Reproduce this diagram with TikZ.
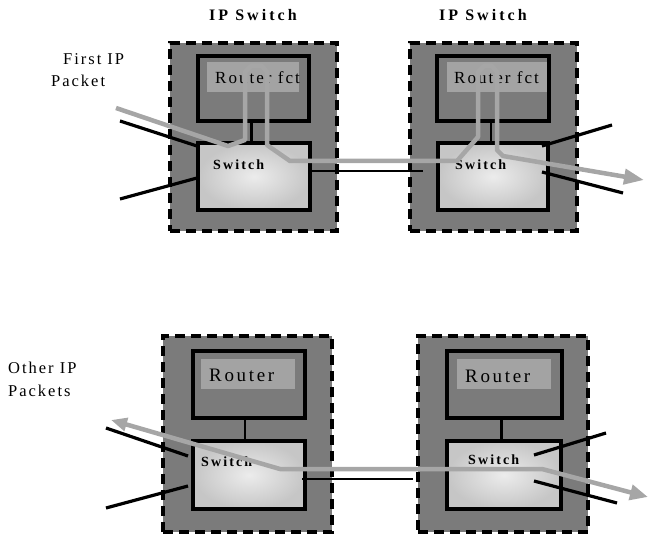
\documentclass[tikz,border=0pt]{standalone}
\usepackage{fontspec}
\setmainfont{Liberation Serif}
\newfontfamily\fhead[LetterSpace=19]{Liberation Serif}
\newfontfamily\fside[LetterSpace=12]{Liberation Serif}
\newfontfamily\frout[LetterSpace=12]{Liberation Serif}
\newfontfamily\frbig[LetterSpace=14]{Liberation Serif}
\newfontfamily\fsw[LetterSpace=15]{Liberation Serif}
\usetikzlibrary{arrows.meta,shadings}
\definecolor{boxgray}{HTML}{7B7B7B}
\definecolor{labgray}{HTML}{A3A3A3}
\definecolor{pathgray}{HTML}{A6A6A6}
\tikzset{
  outerbox/.style={draw=black, fill=boxgray, line width=3.6pt, dash pattern=on 10pt off 6pt, anchor=north west, inner sep=0pt, outer sep=0pt},
  routerbox/.style={draw=black, fill=boxgray, line width=3.4pt, anchor=north west, inner sep=0pt, outer sep=0pt},
  labbox/.style={fill=labgray, anchor=north west, inner sep=0pt, outer sep=0pt},
  switchbox/.style={draw=black, line width=3.4pt, anchor=north west, inner sep=0pt, outer sep=0pt, inner color=gray!15, outer color=gray!45},
  wire/.style={line width=3.2pt, black},
  link/.style={line width=2.8pt, black},
  flow/.style={line width=4.5pt, pathgray, line join=round},
  headtxt/.style={anchor=base west, inner sep=0pt, font=\fhead\bfseries\fontsize{16}{18}\selectfont},
  sidetxt/.style={anchor=base west, inner sep=0pt, font=\fside\fontsize{16.5}{18}\selectfont},
  routtxt/.style={anchor=base west, inner sep=0pt, font=\frout\fontsize{17}{19}\selectfont},
  routbig/.style={anchor=base west, inner sep=0pt, font=\frbig\fontsize{19}{21}\selectfont},
  swtxt/.style={anchor=base west, inner sep=0pt, font=\fsw\bfseries\fontsize{14}{16}\selectfont},
}
\begin{document}
\begin{tikzpicture}[x=1pt,y=-1pt]
\useasboundingbox (0,0) rectangle (649,535);

% ---------- top row ----------
\node[outerbox, minimum width=167pt, minimum height=188pt] (sw1) at (170,43) {};
\node[outerbox, minimum width=167pt, minimum height=188pt] (sw2) at (410,43) {};
\node[routerbox, minimum width=111pt, minimum height=65pt] (r1) at (198,56) {};
\node[routerbox, minimum width=112pt, minimum height=65pt] (r2) at (437,56) {};
\node[labbox, minimum width=92pt, minimum height=30pt] (rl1) at (207,62) {};
\node[labbox, minimum width=100pt, minimum height=30pt] (rl2) at (447,62) {};
\node[switchbox, minimum width=112pt, minimum height=67pt] (s1) at (198,143) {};
\node[switchbox, minimum width=110pt, minimum height=67pt] (s2) at (438,143) {};

\node[headtxt] (h1) at (209,21) {IP Switch};
\node[headtxt] (h2) at (439,21) {IP Switch};
\node[sidetxt] (fi) at (63,65) {First IP};
\node[sidetxt] (fp) at (51,87) {Packet};
\node[routtxt] (rt1) at (215,84) {Router fct};
\node[routtxt] (rt2) at (454,84) {Router fct};
\node[swtxt] (st1) at (213,169) {Switch};
\node[swtxt] (st2) at (455,169) {Switch};

\draw[link] ([xshift=-2pt]r1.south) -- ([xshift=-2pt]r1.south |- s1.north);
\draw[link] ([xshift=-2pt]r2.south) -- ([xshift=-2pt]r2.south |- s2.north);

\coordinate (a1) at (120,121); \coordinate (a2) at (197,146);
\coordinate (a3) at (120,199); \coordinate (a4) at (197,178);
\coordinate (b1) at (311,171); \coordinate (b2) at (423,171);
\coordinate (c1) at (542,146); \coordinate (c2) at (612,125);
\coordinate (c3) at (542,172); \coordinate (c4) at (623,193);
\draw[wire] (a1) -- (a2);
\draw[wire] (a3) -- (a4);
\draw[link] (b1) -- (b2);
\draw[wire] (c1) -- (c2);
\draw[wire] (c3) -- (c4);

\coordinate (pin) at (116,108);
\coordinate (pout) at (644,180);
\draw[flow, -{Triangle[length=20pt,width=15pt]}]
  (pin) -- (228,146) -- (245,140) -- (245,72) -- (251,66) -- (262,66) -- (267,72)
  -- (267,145) -- (290,161) -- (457,161) -- (478,137) -- (478,72) -- (484,66)
  -- (492,66) -- (497,72) -- (497,150) -- (503,156) -- (pout);

% ---------- bottom row ----------
\node[outerbox, minimum width=169pt, minimum height=196pt] (sw3) at (163,336) {};
\node[outerbox, minimum width=170pt, minimum height=196pt] (sw4) at (418,336) {};
\node[routerbox, minimum width=112pt, minimum height=67pt] (r3) at (193,351) {};
\node[routerbox, minimum width=115pt, minimum height=67pt] (r4) at (447,351) {};
\node[labbox, minimum width=94pt, minimum height=30pt] (rl3) at (201,359) {};
\node[labbox, minimum width=94pt, minimum height=30pt] (rl4) at (457,359) {};
\node[switchbox, minimum width=112pt, minimum height=68pt] (s3) at (193,441) {};
\node[switchbox, minimum width=114pt, minimum height=68pt] (s4) at (447,441) {};

\node[sidetxt] (oi) at (8,373) {Other IP};
\node[sidetxt] (op) at (8,396) {Packets};
\node[routbig] (rt3) at (209,381) {Router};
\node[routbig] (rt4) at (465,382) {Router};
\node[swtxt] (st3) at (201,466) {Switch};
\node[swtxt] (st4) at (468,464) {Switch};

\draw[link] ([xshift=-4pt]r3.south) -- ([xshift=-4pt]r3.south |- s3.north);
\draw[link] ([xshift=-3pt]r4.south) -- ([xshift=-3pt]r4.south |- s4.north);

\coordinate (d1) at (106,428); \coordinate (d2) at (188,456);
\coordinate (d3) at (106,508); \coordinate (d4) at (188,486);
\coordinate (e1) at (302,479); \coordinate (e2) at (413,479);
\coordinate (f1) at (534,455); \coordinate (f2) at (606,433);
\coordinate (f3) at (534,481); \coordinate (f4) at (617,503);
\draw[wire] (d1) -- (d2);
\draw[wire] (d3) -- (d4);
\draw[link] (e1) -- (e2);
\draw[wire] (f1) -- (f2);
\draw[wire] (f3) -- (f4);

\coordinate (qleft) at (111,420);
\coordinate (qright) at (648,497);
\draw[flow, {Triangle[length=16pt,width=13pt]}-{Triangle[length=18pt,width=15pt]}]
  (qleft) -- (280,469) -- (542,469) -- (qright);
\end{tikzpicture}
\end{document}
